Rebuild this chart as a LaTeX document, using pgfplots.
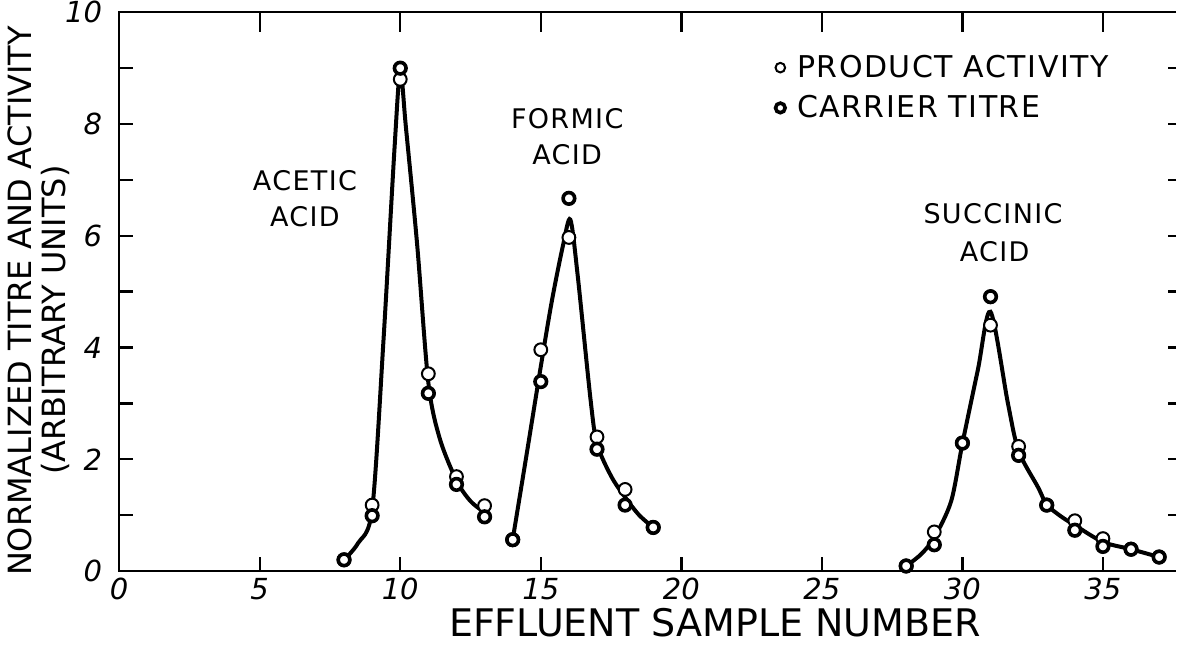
\documentclass[border=0pt]{standalone}
\usepackage{fontspec}
\setmainfont{DejaVu Sans}
\newfontfamily\spaced[LetterSpace=5]{DejaVu Sans}
\usepackage{pgfplots}
\pgfplotsset{compat=1.18}

% product activity (open circles) and carrier titre (heavy circles)
\pgfplotstableread{
x y
8 0.20
9 1.18
10 8.80
11 3.53
12 1.69
13 1.17
14 0.56
15 3.96
16 5.97
17 2.40
18 1.46
19 0.78
28 0.09
29 0.70
30 2.29
31 4.40
32 2.23
33 1.18
34 0.90
35 0.58
36 0.39
37 0.25
}\product
\pgfplotstableread{
x y
8 0.20
9 0.99
10 9.00
11 3.18
12 1.55
13 0.97
14 0.56
15 3.39
16 6.67
17 2.18
18 1.18
19 0.78
28 0.09
29 0.47
30 2.29
31 4.91
32 2.07
33 1.18
34 0.73
35 0.44
36 0.39
37 0.25
}\carrier

\pgfplotsset{frame/.style={
    scale only axis,
    width=528.5pt, height=279.4pt,
    xmin=0, xmax=37.6, ymin=0, ymax=10,
    axis line style={draw=none},
    tick align=inside,
    every tick/.style={black, line width=1.2pt},
}}

\begin{document}
\begin{tikzpicture}
% top ticks (longer) and right ticks (short)
\begin{axis}[frame, xtick={5,10,...,35}, xtick pos=right, xticklabels={},
    ytick=\empty, major tick length=10pt]
\end{axis}
\begin{axis}[frame, xtick=\empty, ytick={1,...,9}, ytick pos=right,
    yticklabels={}, major tick length=4pt]
\end{axis}
\begin{axis}[
    frame,
    name=ax,
    major tick length=7pt, minor tick length=7pt,
    xtick={0,5,...,35}, xtick pos=left,
    ytick={0,2,...,10}, ytick pos=left,
    minor ytick={1,3,...,9},
    /pgf/number format/assume math mode=true,
    xticklabel style={font=\fontsize{14.5}{14.5}\selectfont\itshape},
    yticklabel style={font=\fontsize{14.5}{14.5}\selectfont\itshape, xshift=-5pt},
    clip=false,
    legend style={draw=none, fill=none, at={(rel axis cs:0.615,0.935)}, anchor=north west,
        font=\fontsize{15}{18}\selectfont\spaced, nodes={inner sep=1pt},
        row sep=5.5pt, column sep=5pt},
    legend cell align=left,
    legend image post style={mark size=2.4pt},
]
% hand-drawn curves through the peaks
\addplot[black, line width=2pt, smooth, tension=0.5, forget plot] coordinates {
    (8,0.2) (8.5,0.5) (9,1.1) (9.4,4.1) (9.8,7.6) (10,8.95) (10.2,7.95)
    (10.6,5.85) (11,3.37) (11.4,2.38) (12,1.62) (12.5,1.25) (13,1.05)};
\addplot[black, line width=2pt, smooth, tension=0.5, forget plot] coordinates {
    (14,0.56) (14.5,2.1) (15,3.66) (15.4,4.85) (15.8,5.85) (16.05,6.29)
    (16.3,5.35) (16.77,3.07) (17,2.28) (17.5,1.7) (18,1.32) (18.5,1.0) (19,0.78)};
\addplot[black, line width=2pt, smooth, tension=0.5, forget plot] coordinates {
    (28,0.09) (28.53,0.3) (29,0.6) (29.6,1.25) (30,2.28) (30.55,3.6) (31,4.64)
    (31.62,3.0) (32,2.15) (32.69,1.5) (33,1.19) (33.5,0.98) (34,0.82)
    (35,0.52) (36,0.39) (37,0.25)};
\addplot[only marks, mark=*, mark size=3.2pt,
    mark options={fill=white, draw=black, line width=1pt}] table {\product};
\addplot[only marks, mark=*, mark size=2.9pt,
    mark options={fill=white, draw=black, line width=1.8pt}] table {\carrier};
\legend{PRODUCT ACTIVITY, CARRIER TITRE}

\node[font=\fontsize{13.5}{14}\selectfont\spaced] at (axis cs:6.61,6.98) {ACETIC};
\node[font=\fontsize{13.5}{14}\selectfont\spaced] at (axis cs:6.61,6.34) {ACID};
\node[font=\fontsize{13.5}{14}\selectfont\spaced] at (axis cs:15.94,8.10) {FORMIC};
\node[font=\fontsize{13.5}{14}\selectfont\spaced] at (axis cs:15.94,7.45) {ACID};
\node[font=\fontsize{13.5}{14}\selectfont\spaced] at (axis cs:31.09,6.40) {SUCCINIC};
\node[font=\fontsize{13.5}{14}\selectfont\spaced] at (axis cs:31.15,5.72) {ACID};
\end{axis}
\draw[line width=1.2pt] (ax.north east) -- (ax.north west) -- (ax.south west) -- (ax.south east);
\node[font=\fontsize{19}{19}\selectfont] at ([shift={(297.9pt,-26pt)}]ax.south west) {EFFLUENT SAMPLE NUMBER};
\node[rotate=90, font=\fontsize{16}{16}\selectfont] at ([shift={(-49.6pt,135pt)}]ax.south west) {NORMALIZED TITRE AND ACTIVITY};
\node[rotate=90, font=\fontsize{16}{16}\selectfont] at ([shift={(-32pt,125.5pt)}]ax.south west) {(ARBITRARY UNITS)};
\pgfresetboundingbox
\path[use as bounding box] ([shift={(-59.6pt,-39pt)}]ax.south west) rectangle ([shift={(1.5pt,6.15pt)}]ax.north east);
\end{tikzpicture}
\end{document}
